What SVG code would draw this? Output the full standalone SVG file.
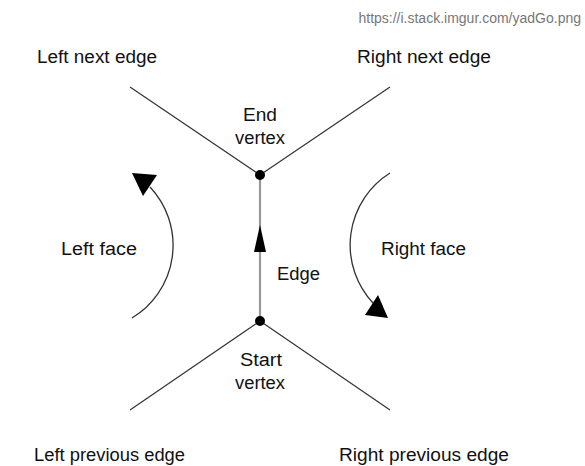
<svg xmlns="http://www.w3.org/2000/svg" width="585" height="466" viewBox="0 0 585 466">
<style>
text{font-family:"Liberation Sans",Arial,sans-serif;font-size:18px;fill:#111}
.ln{stroke:#333;stroke-width:1.2;fill:none}
.arc{stroke:#333;stroke-width:1.3;fill:none}
.head{fill:#000}
</style>
<rect width="585" height="466" fill="#fff"/>
<text x="581" y="23" text-anchor="end" style="fill:#777;font-size:14px">https://i.stack.imgur.com/yadGo.png</text>
<g id="connectors">
<line class="ln" x1="130" y1="87" x2="260" y2="175"/>
<line class="ln" x1="390" y1="87" x2="260" y2="175"/>
<line class="ln" x1="130" y1="410" x2="260" y2="321"/>
<line class="ln" x1="390" y1="410" x2="260" y2="321"/>
<line x1="260" y1="175" x2="260" y2="321" stroke="#999" stroke-width="2.2"/>
<polygon class="head" points="260,225 254,252 266,252"/>
</g>
<g id="end-vertex">
<circle cx="260" cy="175" r="5"/>
<text x="243" y="121" textLength="34" lengthAdjust="spacingAndGlyphs">End</text>
<text x="235" y="144" textLength="50" lengthAdjust="spacingAndGlyphs">vertex</text>
</g>
<g id="start-vertex">
<circle cx="260" cy="321" r="5"/>
<text x="240" y="366" textLength="42" lengthAdjust="spacingAndGlyphs">Start</text>
<text x="235" y="389" textLength="50" lengthAdjust="spacingAndGlyphs">vertex</text>
</g>
<g id="edge-label"><text x="277" y="280" textLength="43" lengthAdjust="spacingAndGlyphs">Edge</text></g>
<g id="left-face">
<path class="arc" d="M132,318 A85,85 0 0 0 150,187"/>
<polygon class="head" points="132,173 157,175 143,196"/>
<text x="61" y="255" textLength="76" lengthAdjust="spacingAndGlyphs">Left face</text>
</g>
<g id="right-face">
<path class="arc" d="M390,173 A85,85 0 0 0 373,303"/>
<polygon class="head" points="388,318 365,315 378,295"/>
<text x="381" y="255" textLength="85" lengthAdjust="spacingAndGlyphs">Right face</text>
</g>
<g id="left-next"><text x="37" y="63" textLength="120" lengthAdjust="spacingAndGlyphs">Left next edge</text></g>
<g id="right-next"><text x="357" y="63" textLength="134" lengthAdjust="spacingAndGlyphs">Right next edge</text></g>
<g id="left-prev"><text x="34" y="461" textLength="151" lengthAdjust="spacingAndGlyphs">Left previous edge</text></g>
<g id="right-prev"><text x="339" y="461" textLength="170" lengthAdjust="spacingAndGlyphs">Right previous edge</text></g>
</svg>
